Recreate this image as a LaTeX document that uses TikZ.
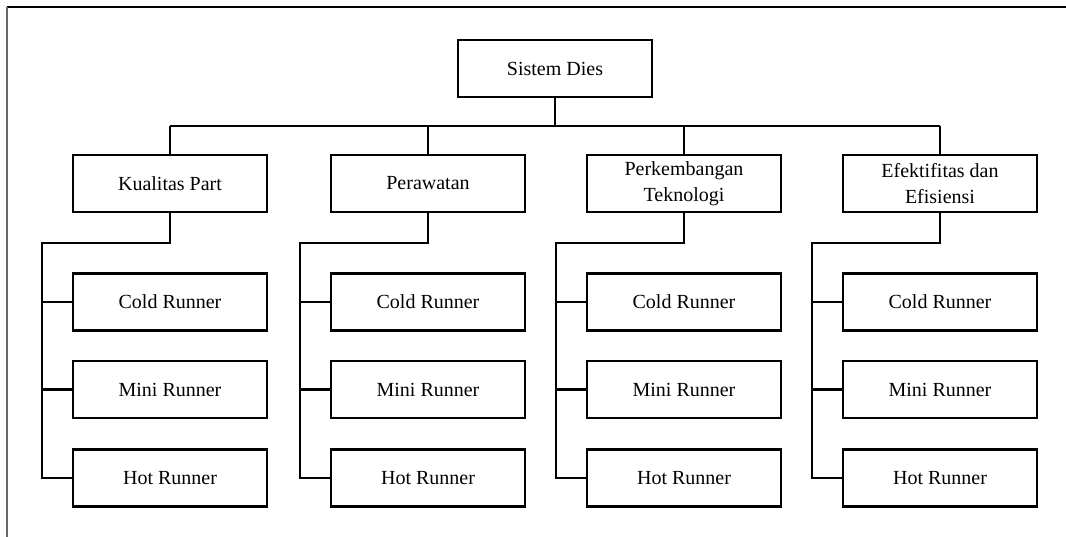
\documentclass[tikz,border=0pt]{standalone}
\usepackage{fontspec}
\setmainfont{Liberation Serif}
\begin{document}
\begin{tikzpicture}[x=1pt,y=-1pt,
  box/.style={draw=black,line width=2.2pt,minimum width=194pt,minimum height=57pt,inner sep=0pt,align=center,font=\fontsize{20}{26}\selectfont},
  conn/.style={draw=black,line width=2.2pt}]
\useasboundingbox (0,0) rectangle (1066,537);
\draw[line width=2.2pt] (7,7) -- (1066,7);
\draw[line width=1.6pt,black!60] (7,7) -- (7,537);
\node[box] (root) at (555,68.5) {Sistem Dies};
\coordinate (bus) at (555,126);
\draw[conn] (root.south) -- (bus);
\foreach \c/\n/\t in {170/a/Kualitas Part,428/b/Perawatan,684/c/Perkembangan\\Teknologi,940/d/Efektifitas dan\\Efisiensi}{
  \node[box] (\n) at (\c,183.5) {\t};
  \node[box] (\n1) at (\c,302) {Cold Runner};
  \node[box] (\n2) at (\c,389.5) {Mini Runner};
  \node[box] (\n3) at (\c,478) {Hot Runner};
  \coordinate (\n t) at (\c,126);
  \coordinate (\n u) at (\c,243);
  \coordinate (\n v) at (\c-128,243);
  \draw[conn] (\n t) -- (\n.north);
  \draw[conn] (\n.south) -- (\n u) -- (\n v) |- (\n3.west);
  \draw[conn] (\n1.west) -- (\n1.west -| \n v);
  \draw[conn] (\n2.west) -- (\n2.west -| \n v);
}
\draw[conn] (at) -- (dt);
\end{tikzpicture}
\end{document}
